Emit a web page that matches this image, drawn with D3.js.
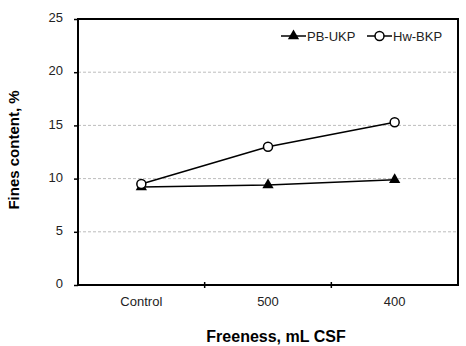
<!DOCTYPE html>
<html>
<head>
<meta charset="utf-8">
<script src="https://cdn.jsdelivr.net/npm/d3@7/dist/d3.min.js"></script>
<style>
  html, body { margin: 0; padding: 0; background: #fff; }
  svg { display: block; font-family: Arial, "Liberation Sans", sans-serif; }
</style>
</head>
<body>
<svg id="chart" width="466" height="346"></svg>
<script>
// Freeness levels and fines content (%) for the two pulps
const categories = ["Control", "500", "400"];
const pbUkp = [9.2, 9.4, 9.9];
const hwBkp = [9.5, 13.0, 15.3];
const yTicks = [0, 5, 10, 15, 20, 25];
const seriesNames = ["PB-UKP", "Hw-BKP"];

const svg = d3.select("#chart");
const margin = { left: 78, right: 8, top: 19, bottom: 61 };
const W = 466, H = 346;
const x0 = margin.left, x1 = W - margin.right;
const y0 = H - margin.bottom, y1 = margin.top;

const x = d3.scaleBand().domain(categories).range([x0, x1]);
const y = d3.scaleLinear().domain([0, 25]).range([y0, y1]);

// horizontal dashed gridlines
svg.append("g").selectAll("line")
  .data(yTicks.filter(t => t > 0 && t < 25))
  .join("line")
  .attr("x1", x0).attr("x2", x1)
  .attr("y1", d => y(d)).attr("y2", d => y(d))
  .attr("stroke", "#bdbdbd").attr("stroke-width", 1)
  .attr("stroke-dasharray", "3,2");

// frame
svg.append("rect")
  .attr("x", x0).attr("y", y1)
  .attr("width", x1 - x0).attr("height", y0 - y1)
  .attr("fill", "none").attr("stroke", "#000").attr("stroke-width", 2);

// y axis
const yAxis = d3.axisLeft(y).tickValues(yTicks).tickSize(4).tickPadding(11);
const gy = svg.append("g").attr("transform", `translate(${x0},0)`).call(yAxis);
gy.select(".domain").remove();
gy.selectAll("line").attr("stroke", "#000").attr("stroke-width", 1.5);
gy.selectAll("text").attr("font-size", 13).attr("fill", "#222").attr("dy", "0.2em");

// x axis: labels centred in bands, ticks at band boundaries
const gx = svg.append("g").attr("transform", `translate(0,${y0})`);
gx.selectAll("text")
  .data(categories)
  .join("text")
  .attr("x", d => x(d) + x.bandwidth() / 2)
  .attr("y", 21)
  .attr("text-anchor", "middle")
  .attr("font-size", 13).attr("fill", "#222")
  .text(d => d);
gx.selectAll("line")
  .data(categories.slice(1))
  .join("line")
  .attr("x1", d => x(d)).attr("x2", d => x(d))
  .attr("y1", -3).attr("y2", 3)
  .attr("stroke", "#000").attr("stroke-width", 1.5);

// axis titles
svg.append("text")
  .attr("x", 276).attr("y", 342)
  .attr("text-anchor", "middle")
  .attr("font-size", 16).attr("font-weight", "bold")
  .text("Freeness, mL CSF");
svg.append("text")
  .attr("transform", `translate(19,150) rotate(-90)`)
  .attr("text-anchor", "middle")
  .attr("font-size", 15).attr("font-weight", "bold")
  .text("Fines content, %");

const cx = c => x(c) + x.bandwidth() / 2;
const line = d3.line().x((d, i) => cx(categories[i])).y(d => y(d));

const tri = d3.symbol().type(d3.symbolTriangle).size(55);

function drawSeries(values, marker) {
  const g = svg.append("g");
  g.append("path").datum(values)
    .attr("d", line).attr("fill", "none")
    .attr("stroke", "#000").attr("stroke-width", 1.5);
  values.forEach((v, i) => marker(g, cx(categories[i]), y(v)));
}

function triMarker(g, px, py) {
  g.append("path").attr("d", tri())
    .attr("transform", `translate(${px},${py})`)
    .attr("fill", "#000");
}
function circMarker(g, px, py) {
  g.append("circle").attr("cx", px).attr("cy", py).attr("r", 4.5)
    .attr("fill", "#fff").attr("stroke", "#000").attr("stroke-width", 1.5);
}

drawSeries(pbUkp, triMarker);
drawSeries(hwBkp, circMarker);

// legend
const legend = svg.append("g");
const items = [
  { name: seriesNames[0], x: 281, marker: triMarker },
  { name: seriesNames[1], x: 367, marker: circMarker }
];
items.forEach(it => {
  legend.append("line")
    .attr("x1", it.x).attr("x2", it.x + 25)
    .attr("y1", 36).attr("y2", 36)
    .attr("stroke", "#000").attr("stroke-width", 1.5);
  it.marker(legend, it.x + 12.5, 36);
  legend.append("text")
    .attr("x", it.x + 26).attr("y", 40.5)
    .attr("font-size", 13).attr("fill", "#222")
    .text(it.name);
});
</script>
</body>
</html>
